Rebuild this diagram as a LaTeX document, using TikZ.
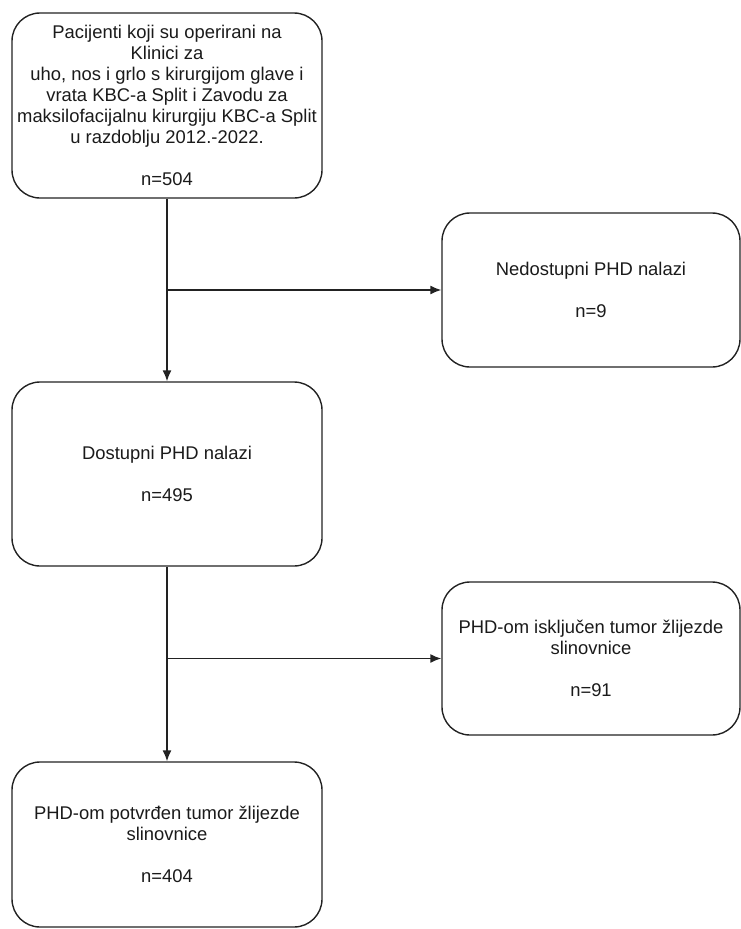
\documentclass[tikz,border=0pt]{standalone}
\usepackage{fontspec}
\setmainfont{Liberation Sans}
\usepackage{tikz}
\usetikzlibrary{calc}
\usetikzlibrary{arrows.meta}
\usetikzlibrary{positioning}
\definecolor{txt}{HTML}{1A1A1A}
\definecolor{ln}{HTML}{222222}
\tikzset{>={Latex[length=11pt,width=9pt]}}
\tikzstyle{box} = [draw=ln, line width=1.4pt, rounded corners=28pt, align=center, text=txt, inner sep=0, font=\fontsize{18.4}{21}\selectfont]
\tikzstyle{lhs} = [box, minimum width=310pt]
\tikzstyle{rhs} = [box, minimum width=298pt]
\tikzstyle{flow} = [->, draw=ln, line width=1.4pt]

\begin{document}
\begin{tikzpicture}[x=1pt, y=-1pt]
\useasboundingbox (0,0) rectangle (741,929);
%\node [draw=none] at (0,0) {};
\node [lhs, minimum height=185pt] (pac) at (167, 105.5) {Pacijenti koji su operirani na\\Klinici za\\uho, nos i grlo s kirurgijom glave i\\vrata KBC-a Split i Zavodu za\\maksilofacijalnu kirurgiju KBC-a Split\\u razdoblju 2012.-2022.\\[21pt]n=504};
\node [rhs, minimum height=154pt] (ned) at (591, 290) {Nedostupni PHD nalazi\\[21pt]n=9};
\node [lhs, minimum height=184pt] (dos) at (167, 474) {Dostupni PHD nalazi\\[21pt]n=495};
\node [rhs, minimum height=153pt] (isk) at (591, 658.5) {PHD-om isključen tumor žlijezde\\slinovnice\\[21pt]n=91};
\node [lhs, minimum height=165pt] (pot) at (167, 844.5) {PHD-om potvrđen tumor žlijezde\\slinovnice\\[21pt]n=404};
\coordinate (b1) at (pac.south |- ned.west);
\coordinate (b2) at (dos.south |- isk.west);
\draw [flow] (pac) to (dos);
\draw [flow] (b1) to (ned);
\draw [flow] (dos) to (pot);
\draw [flow] (b2) to (isk);
\end{tikzpicture}
\end{document}
